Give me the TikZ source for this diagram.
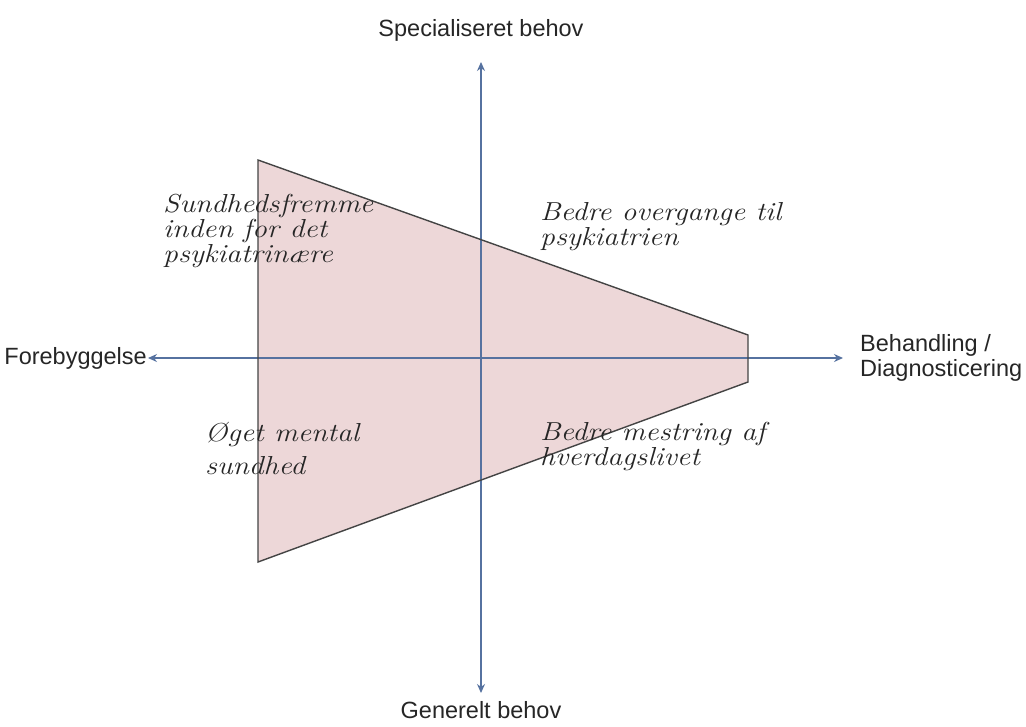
\documentclass[tikz,border=0pt]{standalone}
\usepackage{fontspec}
\setmainfont{Liberation Sans}
\newfontfamily\handfont[FakeStretch=1.14]{Latin Modern Roman}
\usetikzlibrary{arrows.meta}
\definecolor{trapfill}{HTML}{EDD7D8}
\definecolor{trapline}{HTML}{444444}
\definecolor{axisblue}{HTML}{5672A0}
\tikzset{
  axis/.style={draw=axisblue, line width=1.3pt, -{Stealth[length=9pt,width=8pt]}},
  axislabel/.style={font=\fontsize{23.5}{25}\selectfont, text=black!85, inner sep=0pt},
  hand/.style={font=\handfont\itshape\fontsize{26}{25}\selectfont, text=black!85, align=left, inner sep=0pt, anchor=north west},
}
\begin{document}
\begin{tikzpicture}[x=1pt,y=-1pt]
\useasboundingbox (0,0) rectangle (1026,726);
\fill[white] (0,0) rectangle (1026,726);
% trapezoid
\coordinate (tl) at (258,160);
\coordinate (tr) at (748,335);
\coordinate (br) at (748,382);
\coordinate (bl) at (258,562);
\fill[trapfill] (tl) -- (tr) -- (br) -- (bl) -- cycle;
% axes
\coordinate (c) at (481,358);
\coordinate (top) at (481,62);
\coordinate (bot) at (481,693);
\coordinate (lft) at (148,358);
\coordinate (rgt) at (843,358);
\draw[axis] (c) -- (top);
\draw[axis] (c) -- (bot);
\draw[axis] (c) -- (lft);
\draw[axis] (c) -- (rgt);
\draw[trapline, line width=1.4pt, line join=miter] (tl) -- (tr) -- (br) -- (bl) -- cycle;
% axis labels
\node[axislabel] (spec) at (481,30) {Specialiseret behov};
\node[axislabel] (gen) at (481,710) {Generelt behov};
\node[axislabel, anchor=east] (fore) at (147,358) {Forebyggelse};
\node[axislabel, anchor=west, align=left] (beh) at (860,358) {Behandling /\\Diagnosticering};
% handwritten labels
\node[hand] (sund) at (163,194) {Sundhedsfremme\\inden for det\\psykiatrinære};
\node[hand] (over) at (540,202) {Bedre overgange til\\psykiatrien};
\node[hand, font=\handfont\itshape\fontsize{26}{33}\selectfont] (oget) at (205,422) {Øget mental\\sundhed};
\node[hand] (mest) at (540,422) {Bedre mestring af\\hverdagslivet};
\end{tikzpicture}
\end{document}
